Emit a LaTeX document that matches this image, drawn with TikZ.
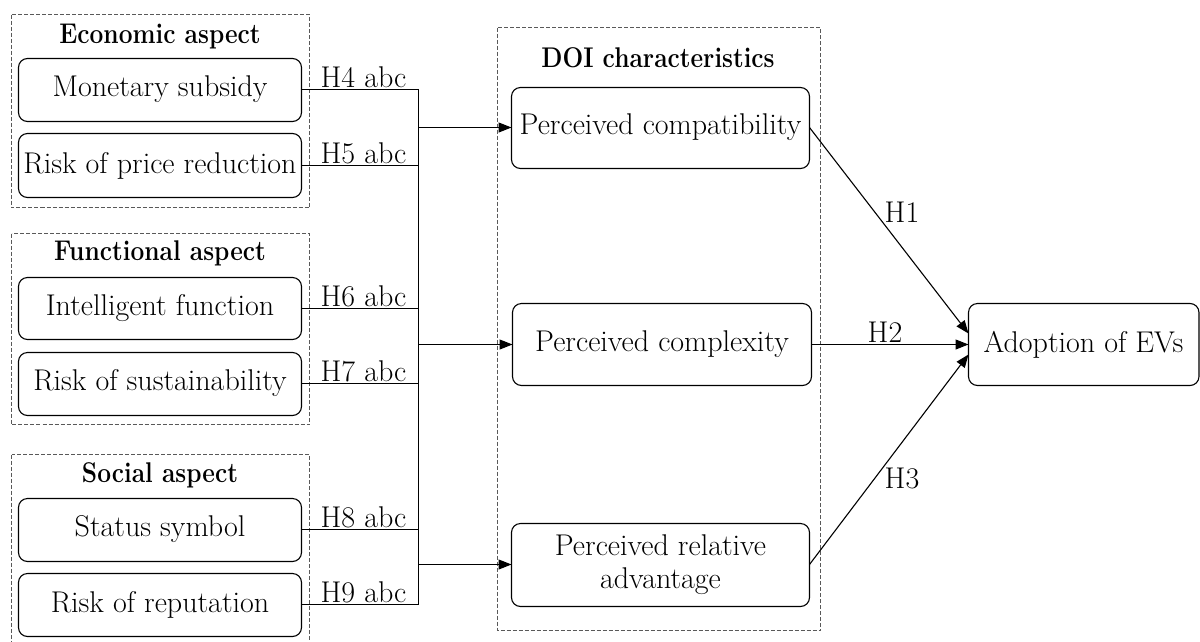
\documentclass[tikz,border=0pt]{standalone}
\usetikzlibrary{arrows.meta,calc}
\newcommand{\ttltext}[1]{\scalebox{0.86}[1]{#1}}
\begin{document}
\begin{tikzpicture}[x=1pt,y=-1pt,
  txt/.style={font=\fontsize{30}{33}\selectfont},
  ttl/.style={font=\fontsize{28.5}{32}\selectfont\bfseries},
  grp/.style={draw=black!65,dash pattern=on 4pt off 2pt,line width=1pt},
  box/.style={draw,rounded corners=9pt,line width=1.1pt},
  ln/.style={line width=1.1pt},
  arr/.style={line width=1.1pt,-{Triangle[length=13pt,width=10pt]}},
  lab/.style={font=\fontsize{30}{33}\selectfont,inner sep=1pt}]
\useasboundingbox (0,0) rectangle (1200,641);
\clip (0,0) rectangle (1200,641);
% group frames
\draw[grp] (11.5,14.5) rectangle (309.5,207.5);
\draw[grp] (11.5,233.5) rectangle (309.5,424.5);
\draw[grp] (11.5,454.5) rectangle (309.5,680);
\draw[grp] (497.5,27.5) rectangle (820.5,630.5);
% titles
\node[ttl] (t1) at (160,37) {\ttltext{Economic aspect}};
\node[ttl] (t2) at (160,253) {\ttltext{Functional aspect}};
\node[ttl] (t3) at (160,475) {\ttltext{Social aspect}};
\node[ttl] (t4) at (658,58) {\ttltext{DOI characteristics}};
% source boxes
\draw[box] (18.5,58.5) rectangle (301.5,121.5);
\node[txt] (ms) at (160,89.5) {Monetary subsidy};
\coordinate (msE) at (301.5,89.5);
\draw[box] (18.5,133.5) rectangle (301.5,197.5);
\node[txt] (rp) at (160,165.5) {Risk of price reduction};
\coordinate (rpE) at (301.5,165.5);
\draw[box] (18.5,277.5) rectangle (301.5,339.5);
\node[txt] (if) at (160,308.5) {Intelligent function};
\coordinate (ifE) at (301.5,308.5);
\draw[box] (18.5,352.5) rectangle (301.5,415.5);
\node[txt] (rs) at (160,383.5) {Risk of sustainability};
\coordinate (rsE) at (301.5,383.5);
\draw[box] (18.5,498.5) rectangle (301.5,561.5);
\node[txt] (ss) at (160,529.5) {Status symbol};
\coordinate (ssE) at (301.5,529.5);
\draw[box] (18.5,573.5) rectangle (301.5,636.5);
\node[txt] (rr) at (160,604.5) {Risk of reputation};
\coordinate (rrE) at (301.5,604.5);
% DOI boxes
\draw[box] (511.5,87.5) rectangle (809.5,168.5);
\node[txt] (pc) at (660.5,127.5) {Perceived compatibility};
\coordinate (pcW) at (511.5,127.5);
\coordinate (pcE) at (809.5,127.5);
\draw[box] (512.5,303.5) rectangle (811.5,385.5);
\node[txt] (px) at (662,344.5) {Perceived complexity};
\coordinate (pxW) at (512.5,344.5);
\coordinate (pxE) at (811.5,344.5);
\draw[box] (511.5,523.5) rectangle (809.5,606.5);
\node[txt,align=center] (pa) at (660.5,564.5) {Perceived relative\\advantage};
\coordinate (paW) at (511.5,564.5);
\coordinate (paE) at (809.5,564.5);
% adoption
\draw[box] (968.5,303.5) rectangle (1199,385.5);
\node[txt] (ad) at (1083.5,344.5) {Adoption of EVs};
\coordinate (adW1) at (968.5,333.5);
\coordinate (adW2) at (968.5,344.5);
\coordinate (adW3) at (968.5,354.5);
% bus
\coordinate (b4) at (418.5,89.5);
\coordinate (b5) at (418.5,165.5);
\coordinate (b6) at (418.5,308.5);
\coordinate (b7) at (418.5,383.5);
\coordinate (b8) at (418.5,529.5);
\coordinate (b9) at (418.5,604.5);
\coordinate (bA) at (418.5,127.5);
\coordinate (bB) at (418.5,344.5);
\coordinate (bC) at (418.5,564.5);
\draw[ln] (msE) -- node[lab,above=0pt,pos=0.53] {H4 abc} (b4);
\draw[ln] (rpE) -- node[lab,above=0pt,pos=0.53] {H5 abc} (b5);
\draw[ln] (ifE) -- node[lab,above=0pt,pos=0.53] {H6 abc} (b6);
\draw[ln] (rsE) -- node[lab,above=0pt,pos=0.53] {H7 abc} (b7);
\draw[ln] (ssE) -- node[lab,above=0pt,pos=0.53] {H8 abc} (b8);
\draw[ln] (rrE) -- node[lab,above=0pt,pos=0.53] {H9 abc} (b9);
\draw[ln] (b4) -- (b9);
\draw[arr] (bA) -- (pcW);
\draw[arr] (bB) -- (pxW);
\draw[arr] (bC) -- (paW);
% outcome arrows
\draw[arr] (pcE) -- (adW1);
\draw[arr] (pxE) -- (adW2);
\draw[arr] (paE) -- (adW3);
\node[lab] (h1) at (902,212) {H1};
\node[lab] (h2) at (885,332) {H2};
\node[lab] (h3) at (902,478) {H3};
\end{tikzpicture}
\end{document}
